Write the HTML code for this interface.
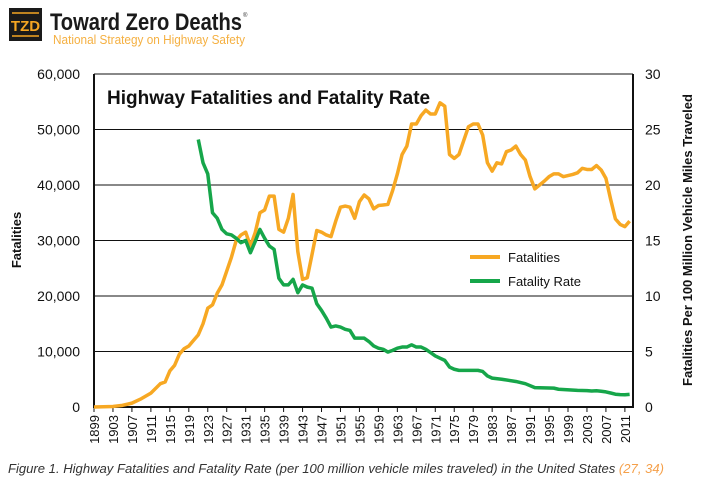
<!DOCTYPE html><html><head><style>
body{margin:0;background:#fff;width:704px;height:485px;overflow:hidden;font-family:"Liberation Sans",Arial,sans-serif}
</style></head><body>
<svg id="s" width="704" height="485" xmlns="http://www.w3.org/2000/svg" font-family="Liberation Sans, Arial, sans-serif">
<rect x="9" y="8" width="33" height="33" fill="#1a1a1a"/>
<text x="25.5" y="31" text-anchor="middle" font-size="15" font-weight="bold" fill="#f5a623">TZD</text>
<line x1="12" y1="13" x2="39" y2="13" stroke="#f5a623" stroke-width="1.5"/>
<line x1="12" y1="36" x2="39" y2="36" stroke="#f5a623" stroke-width="1.5"/>
<text x="50" y="30" font-size="24" font-weight="bold" fill="#1a1a1a" textLength="192" lengthAdjust="spacingAndGlyphs">Toward Zero Deaths</text>
<text x="243" y="17" font-size="6" fill="#333">®</text>
<text x="53" y="44" font-size="12.5" fill="#f5b041" textLength="192" lengthAdjust="spacingAndGlyphs">National Strategy on Highway Safety</text>
<g id="g"></g>
<text x="107" y="104" font-size="19" font-weight="bold" fill="#111">Highway Fatalities and Fatality Rate</text>
<line x1="470" y1="257" x2="500" y2="257" stroke="#f7a823" stroke-width="4"/>
<text x="508" y="262" font-size="13" fill="#111">Fatalities</text>
<line x1="470" y1="281" x2="500" y2="281" stroke="#16a64a" stroke-width="4"/>
<text x="508" y="286" font-size="13" fill="#111">Fatality Rate</text>
<text transform="translate(21,240) rotate(-90)" text-anchor="middle" font-size="13" font-weight="bold" fill="#111">Fatalities</text>
<text transform="translate(692,240) rotate(-90)" text-anchor="middle" font-size="13" font-weight="bold" fill="#111">Fatalities Per 100 Million Vehicle Miles Traveled</text>
<text x="8" y="473" font-size="13" font-style="italic" fill="#333" textLength="656" lengthAdjust="spacingAndGlyphs">Figure 1. Highway Fatalities and Fatality Rate (per 100 million vehicle miles traveled) in the United States <tspan fill="#f5a04a">(27, 34)</tspan></text>
</svg>
<script>
var g=document.getElementById('g'),h='';
var X0=94,XS=4.74,Y0=407,YS=55.5;
function x(y){return X0+(y-1899)*XS}
for(var i=0;i<=6;i++){var yy=Y0-i*YS;
if(i>0)h+='<line x1="94" y1="'+yy+'" x2="633" y2="'+yy+'" stroke="#111" stroke-width="1"/>';
h+='<text x="80" y="'+(yy+5)+'" text-anchor="end" font-size="14" fill="#111">'+(i?(i*10)+',000':'0')+'</text>';
h+='<text x="645" y="'+(yy+5)+'" font-size="14" fill="#111">'+(i*5)+'</text>';}
h+='<line x1="94" y1="74" x2="94" y2="408" stroke="#111" stroke-width="2"/><line x1="633" y1="74" x2="633" y2="408" stroke="#111" stroke-width="2"/><line x1="93" y1="407" x2="634" y2="407" stroke="#111" stroke-width="2"/>';
for(var yr=1899;yr<=2011;yr+=4){var xx=x(yr);
h+='<line x1="'+xx+'" y1="407" x2="'+xx+'" y2="412" stroke="#111"/>';
h+='<text transform="translate('+(xx+5)+',415) rotate(-90)" text-anchor="end" font-size="13" fill="#111">'+yr+'</text>';}
var F=[[1899,0],[1903,100],[1905,300],[1907,700],[1909,1500],[1911,2500],[1913,4200],[1914,4500],[1915,6500],[1916,7500],[1917,9500],[1918,10500],[1919,11000],[1920,12000],[1921,13000],[1922,15000],[1923,17800],[1924,18400],[1925,20500],[1926,22000],[1927,24500],[1928,27000],[1929,30000],[1930,31000],[1931,31500],[1932,29000],[1933,31400],[1934,35000],[1935,35500],[1936,38000],[1937,38000],[1938,32000],[1939,31500],[1940,34000],[1941,38300],[1942,28000],[1943,23000],[1944,23300],[1945,27500],[1946,31800],[1947,31500],[1948,31000],[1949,30700],[1950,33500],[1951,36000],[1952,36200],[1953,36000],[1954,34000],[1955,37000],[1956,38200],[1957,37500],[1958,35700],[1959,36300],[1960,36400],[1961,36500],[1962,39000],[1963,42000],[1964,45500],[1965,47000],[1966,51000],[1967,51000],[1968,52500],[1969,53500],[1970,52800],[1971,52800],[1972,54800],[1973,54200],[1974,45500],[1975,44800],[1976,45500],[1977,48000],[1978,50500],[1979,51000],[1980,51000],[1981,49000],[1982,44000],[1983,42500],[1984,44000],[1985,43800],[1986,46000],[1987,46300],[1988,47000],[1989,45500],[1990,44500],[1991,41500],[1992,39300],[1993,40000],[1994,40700],[1995,41500],[1996,42000],[1997,42000],[1998,41500],[1999,41700],[2000,41900],[2001,42200],[2002,43000],[2003,42800],[2004,42800],[2005,43500],[2006,42700],[2007,41200],[2008,37400],[2009,33900],[2010,32900],[2011,32500],[2012,33500]];
var R=[[1921,24.1],[1922,22],[1923,21],[1924,17.5],[1925,17],[1926,16],[1927,15.6],[1928,15.5],[1929,15.2],[1930,14.8],[1931,15],[1932,13.9],[1933,14.9],[1934,16],[1935,15.2],[1936,14.5],[1937,14.2],[1938,11.6],[1939,11],[1940,11],[1941,11.5],[1942,10.3],[1943,11],[1944,10.8],[1945,10.7],[1946,9.3],[1947,8.7],[1948,8],[1949,7.2],[1950,7.3],[1951,7.2],[1952,7],[1953,6.9],[1954,6.2],[1955,6.2],[1956,6.2],[1957,5.9],[1958,5.5],[1959,5.3],[1960,5.2],[1961,4.95],[1962,5.1],[1963,5.3],[1964,5.4],[1965,5.4],[1966,5.6],[1967,5.4],[1968,5.4],[1969,5.2],[1970,4.9],[1971,4.6],[1972,4.4],[1973,4.2],[1974,3.6],[1975,3.4],[1976,3.3],[1980,3.3],[1981,3.2],[1982,2.8],[1983,2.6],[1985,2.5],[1988,2.3],[1990,2.1],[1992,1.75],[1996,1.7],[1997,1.6],[2001,1.5],[2003,1.48],[2004,1.44],[2005,1.46],[2006,1.42],[2007,1.36],[2008,1.26],[2009,1.15],[2010,1.11],[2011,1.1],[2012,1.14]];
h+='<polyline fill="none" stroke="#f7a823" stroke-width="3.5" stroke-linejoin="round" points="'+F.map(function(p){return x(p[0])+','+(Y0-p[1]/10000*YS)}).join(' ')+'"/>';
h+='<polyline fill="none" stroke="#16a64a" stroke-width="3.5" stroke-linejoin="round" points="'+R.map(function(p){return x(p[0])+','+(Y0-p[1]*YS/5)}).join(' ')+'"/>';
g.innerHTML=h;
</script>
</body></html>
